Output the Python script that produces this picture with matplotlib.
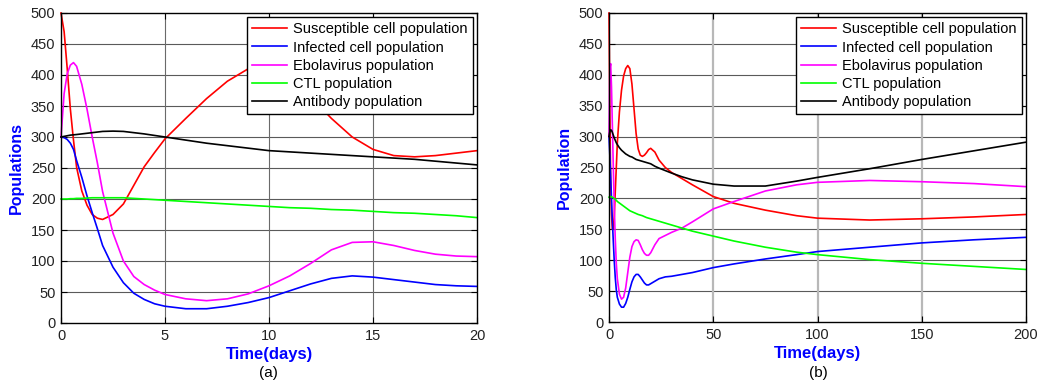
import matplotlib
matplotlib.use('Agg')
import matplotlib.pyplot as plt

plt.rcParams['font.family'] = ['Liberation Sans', 'DejaVu Sans']

# ---- panel (a): 0..20 days ----
t_a = [0, 0.15, 0.3, 0.45, 0.6, 0.75, 1, 1.25, 1.5, 1.75, 2, 2.5, 3, 3.5, 4, 4.5, 5,
       6, 7, 8, 9, 10, 11, 12, 13, 14, 15, 16, 17, 18, 19, 20]
sus_a = [500, 470, 410, 345, 295, 251, 213, 190, 175, 169, 167, 175, 192, 222, 252, 275, 297,
         330, 362, 390, 410, 416, 400, 365, 330, 300, 280, 270, 268, 270, 274, 278]
inf_a = [300, 299, 296, 290, 280, 262, 235, 205, 178, 152, 125, 90, 65, 48, 38, 31, 27,
         23, 23, 27, 33, 41, 52, 63, 72, 76, 74, 70, 66, 62, 60, 59]
vir_a = [300, 370, 402, 416, 420, 414, 385, 345, 300, 258, 212, 145, 100, 75, 62, 53, 46,
         39, 36, 39, 47, 60, 76, 96, 118, 130, 131, 125, 117, 111, 108, 107]
ctl_a = [200, 200, 200, 200.5, 200.5, 201, 201, 201.5, 202, 202, 202, 202, 202, 201, 200, 199, 198,
         196, 194, 192, 190, 188, 186, 185, 183, 182, 180, 178, 177, 175, 173, 170]
ab_a = [300, 301, 302, 303, 303.5, 304, 305, 306, 307, 308, 309, 309.5, 309, 307, 305, 302.5, 300,
        295, 290, 286, 282, 278, 276, 274, 272, 270, 268, 266, 264, 261, 258, 255]

# ---- panel (b): 0..200 days ----
t_b = [0, 0.4, 0.8, 1.2, 1.6, 2, 2.5, 3, 3.5, 4, 5, 6, 7, 8, 9, 10, 11, 12, 13, 14,
       15, 16, 17, 18, 19, 20, 22, 24, 27, 30, 35, 40, 50, 60, 75, 90, 100, 125, 150, 175, 200]
sus_b = [500, 340, 230, 175, 150, 150, 170, 210, 250, 290, 340, 375, 398, 410, 415, 410, 385, 345, 305, 280,
         270, 268, 270, 274, 279, 281, 275, 262, 250, 242, 232, 222, 203, 192, 181, 172, 168, 165, 167, 170, 174]
inf_b = [300, 270, 235, 200, 165, 135, 100, 72, 52, 40, 29, 24, 24, 30, 40, 53, 65, 73, 77, 77,
         73, 68, 63, 60, 60, 62, 66, 70, 73, 74, 77, 80, 88, 94, 102, 109, 114, 121, 128, 133, 137]
vir_b = [300, 410, 418, 380, 320, 260, 190, 135, 95, 70, 45, 37, 40, 55, 80, 105, 122, 130, 133, 132,
         125, 117, 111, 108, 108, 112, 125, 135, 140, 145, 152, 162, 183, 195, 212, 222, 226, 229, 227, 224, 219]
ctl_b = [202, 203, 203, 202.5, 202, 201, 200, 198.5, 197, 195, 192.5, 190, 187.5, 185, 182.5, 180, 178.5, 177, 175.5, 174,
         173, 172, 170.5, 169, 168, 167, 165, 163, 160, 157, 152, 147, 139, 131, 121, 113, 109, 101, 95, 90, 85]
ab_b = [300, 308, 311, 310, 307, 303, 298, 294, 290, 287, 282, 278, 275, 272, 270, 268, 267, 265, 263, 262,
        261, 260, 259, 258, 257, 256, 252, 249, 245, 241, 235, 230, 223, 220, 220, 228, 234, 248, 263, 277, 291]

labels = ['Susceptible cell population', 'Infected cell population', 'Ebolavirus population',
          'CTL population', 'Antibody population']
colors = ['#ff0000', '#0000ff', '#ff00ff', '#00ff00', '#000000']

fig = plt.figure(figsize=(10.4, 3.87), dpi=100)
ax1 = fig.add_axes([61/1040, 64/387, 416/1040, 310/387])
ax2 = fig.add_axes([609/1040, 65/387, 417/1040, 309/387])


def style(ax, xmax, xticks, vgrid_color, vgrid_lw, ylab):
    ax.set_xlim(0, xmax)
    ax.set_ylim(0, 500)
    ax.set_xticks(xticks)
    ax.set_yticks(range(0, 501, 50))
    for y in range(50, 500, 50):
        ax.axhline(y, color='#5a5a5a', lw=0.8, zorder=0)
    for x in xticks[1:-1]:
        ax.axvline(x, color=vgrid_color, lw=vgrid_lw, zorder=0)
    ax.tick_params(direction='in', length=4, width=0.8, top=True, right=True,
                   labelsize=10.5, labelcolor='#222222', pad=4)
    for s in ax.spines.values():
        s.set_linewidth(1.0)
        s.set_color('black')
    ax.set_xlabel('Time(days)', fontsize=12, fontweight='bold', color='#0000ff', labelpad=3)
    ax.set_ylabel(ylab, fontsize=11.5, fontweight='bold', color='#0000ff', labelpad=5)


series_a = [sus_a, inf_a, vir_a, ctl_a, ab_a]
series_b = [sus_b, inf_b, vir_b, ctl_b, ab_b]
for ax, t, series in [(ax1, t_a, series_a), (ax2, t_b, series_b)]:
    for ys, c, lab in zip(series, colors, labels):
        ax.plot(t, ys, color=c, lw=1.2, label=lab, clip_on=False)

style(ax1, 20, [0, 5, 10, 15, 20], '#6a6a6a', 0.8, 'Populations')
style(ax2, 200, [0, 50, 100, 150, 200], '#b8b8b8', 1.6, 'Population')

for ax in (ax1, ax2):
    leg = ax.legend(loc='upper right', fontsize=10.5, frameon=True, fancybox=False,
                    edgecolor='black', framealpha=1, handlelength=2.4,
                    handletextpad=0.4, labelspacing=0.28, borderpad=0.35,
                    borderaxespad=0.3)
    leg.get_frame().set_linewidth(1.0)

fig.text(268/1040, 1 - 373/387, '(a)', ha='center', va='center', fontsize=11)
fig.text(818/1040, 1 - 373/387, '(b)', ha='center', va='center', fontsize=11)

fig.savefig('out.png', dpi=100)
